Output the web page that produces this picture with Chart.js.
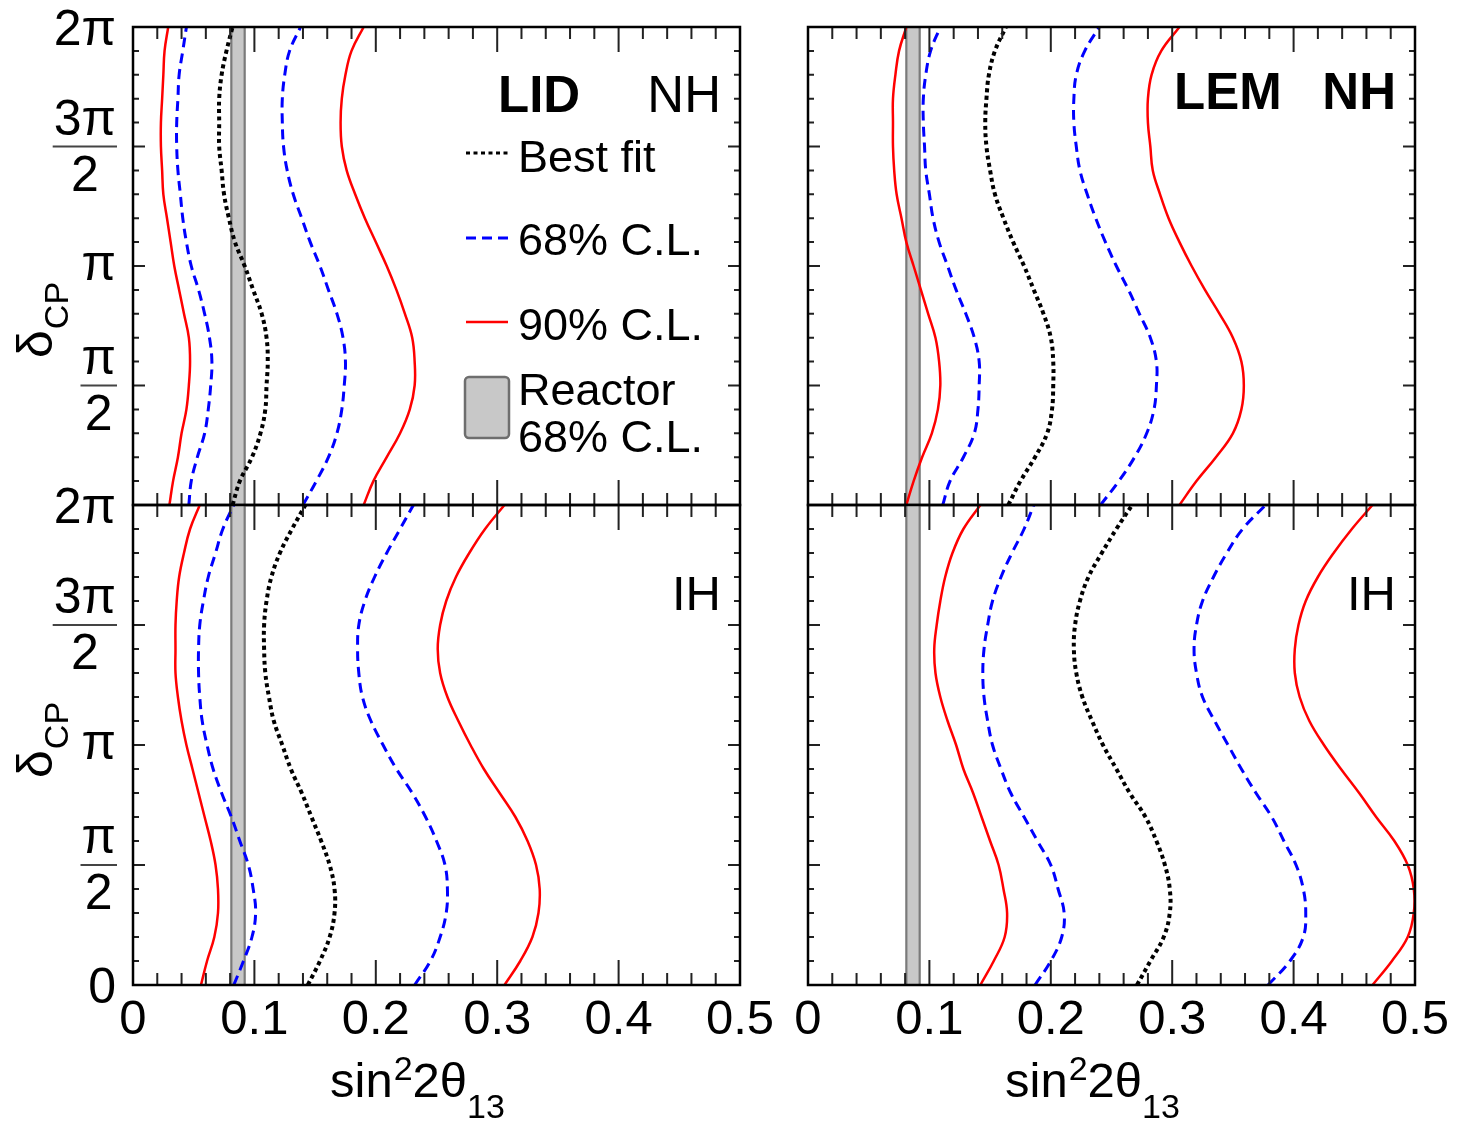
<!DOCTYPE html>
<html>
<head>
<meta charset="utf-8">
<title>sin²2θ13 vs δCP — LID / LEM, NH / IH</title>
<script src="https://cdn.jsdelivr.net/npm/chart.js@4.4.0/dist/chart.umd.min.js"></script>
<style>
  body { margin: 0; background: #fff; }
  #wrap { position: relative; width: 1457px; height: 1122px; overflow: hidden; }
  #wrap canvas { position: absolute; }
</style>
</head>
<body>
<div id="wrap">
  <canvas id="lidNH" width="790" height="520" style="left:0;top:0"></canvas>
  <canvas id="lidIH" width="790" height="652" style="left:0;top:470px"></canvas>
  <canvas id="lemNH" width="677" height="520" style="left:780px;top:0"></canvas>
  <canvas id="lemIH" width="677" height="652" style="left:780px;top:470px"></canvas>
</div>
<script>
const PI = Math.PI;
const FONT = '"Liberation Sans", Arial, Helvetica, sans-serif';

// delta_CP sample grid, in units of pi
const deltaOverPi = [0, 0.1, 0.2, 0.3, 0.4, 0.5, 0.6, 0.7, 0.8, 0.9, 1.0,
                     1.1, 1.2, 1.3, 1.4, 1.5, 1.6, 1.7, 1.8, 1.9, 2.0];

// tick labels
const xTickLabels = ['0', '0.1', '0.2', '0.3', '0.4', '0.5'];
const yLabelAt = [0, 0.5, 1, 1.5, 2];
const yLabelNum = ['0', 'π', 'π', '3π', '2π'];
const yLabelDen = ['', '2', '', '2', ''];

// reactor 68% C.L. band
const reactorLo = 0.081;
const reactorHi = 0.092;

// LID, normal hierarchy
const lidNH_90lo = [0.030, 0.033, 0.037, 0.040, 0.044, 0.046, 0.047, 0.046, 0.042, 0.038, 0.034, 0.031, 0.028, 0.025, 0.024, 0.023, 0.023, 0.024, 0.025, 0.026, 0.029];
const lidNH_68lo = [0.046, 0.048, 0.053, 0.059, 0.062, 0.064, 0.065, 0.063, 0.059, 0.054, 0.048, 0.044, 0.041, 0.039, 0.037, 0.036, 0.036, 0.037, 0.038, 0.041, 0.044];
const lidNH_best = [0.082, 0.088, 0.098, 0.105, 0.109, 0.110, 0.111, 0.110, 0.106, 0.099, 0.092, 0.084, 0.079, 0.075, 0.073, 0.071, 0.071, 0.071, 0.073, 0.077, 0.082];
const lidNH_68hi = [0.140, 0.151, 0.161, 0.168, 0.172, 0.174, 0.175, 0.173, 0.168, 0.161, 0.154, 0.146, 0.139, 0.132, 0.127, 0.124, 0.123, 0.123, 0.125, 0.129, 0.138];
const lidNH_90hi = [0.190, 0.198, 0.209, 0.220, 0.228, 0.232, 0.232, 0.230, 0.224, 0.217, 0.209, 0.200, 0.191, 0.183, 0.176, 0.172, 0.171, 0.172, 0.175, 0.180, 0.190];

// LID, inverted hierarchy
const lidIH_90lo = [0.056, 0.061, 0.067, 0.070, 0.070, 0.068, 0.064, 0.059, 0.054, 0.049, 0.044, 0.040, 0.037, 0.035, 0.035, 0.035, 0.036, 0.038, 0.042, 0.047, 0.055];
const lidIH_68lo = [0.083, 0.091, 0.098, 0.101, 0.099, 0.095, 0.088, 0.081, 0.073, 0.066, 0.061, 0.057, 0.055, 0.054, 0.054, 0.055, 0.058, 0.062, 0.068, 0.074, 0.083];
const lidIH_best = [0.144, 0.154, 0.162, 0.166, 0.166, 0.162, 0.155, 0.147, 0.139, 0.130, 0.123, 0.116, 0.112, 0.109, 0.108, 0.108, 0.110, 0.114, 0.121, 0.131, 0.142];
const lidIH_68hi = [0.232, 0.245, 0.253, 0.258, 0.259, 0.257, 0.250, 0.241, 0.230, 0.217, 0.206, 0.196, 0.189, 0.186, 0.185, 0.186, 0.191, 0.199, 0.209, 0.220, 0.231];
const lidIH_90hi = [0.306, 0.319, 0.329, 0.334, 0.335, 0.332, 0.325, 0.315, 0.302, 0.289, 0.278, 0.268, 0.259, 0.253, 0.251, 0.253, 0.258, 0.266, 0.277, 0.290, 0.306];

// LEM, normal hierarchy
const lemNH_90lo = [0.081, 0.087, 0.094, 0.102, 0.107, 0.109, 0.108, 0.105, 0.099, 0.093, 0.087, 0.081, 0.077, 0.073, 0.071, 0.070, 0.070, 0.070, 0.072, 0.075, 0.081];
const lemNH_68lo = [0.111, 0.117, 0.128, 0.137, 0.140, 0.141, 0.141, 0.137, 0.130, 0.122, 0.115, 0.108, 0.103, 0.100, 0.097, 0.096, 0.095, 0.095, 0.097, 0.101, 0.109];
const lemNH_best = [0.165, 0.175, 0.187, 0.197, 0.201, 0.202, 0.202, 0.200, 0.194, 0.186, 0.178, 0.169, 0.161, 0.154, 0.150, 0.147, 0.146, 0.147, 0.149, 0.154, 0.163];
const lemNH_68hi = [0.241, 0.256, 0.269, 0.279, 0.285, 0.287, 0.287, 0.282, 0.273, 0.264, 0.254, 0.245, 0.237, 0.230, 0.224, 0.221, 0.219, 0.219, 0.221, 0.228, 0.240];
const lemNH_90hi = [0.306, 0.320, 0.336, 0.350, 0.357, 0.359, 0.357, 0.350, 0.339, 0.327, 0.316, 0.306, 0.297, 0.290, 0.284, 0.282, 0.280, 0.280, 0.283, 0.291, 0.306];

// LEM, inverted hierarchy
const lemIH_90lo = [0.142, 0.153, 0.162, 0.164, 0.161, 0.157, 0.150, 0.143, 0.136, 0.128, 0.122, 0.115, 0.109, 0.105, 0.104, 0.106, 0.109, 0.113, 0.119, 0.128, 0.142];
const lemIH_68lo = [0.187, 0.200, 0.209, 0.211, 0.206, 0.200, 0.189, 0.178, 0.167, 0.159, 0.152, 0.148, 0.145, 0.144, 0.145, 0.148, 0.152, 0.159, 0.168, 0.178, 0.186];
const lemIH_best = [0.271, 0.282, 0.293, 0.298, 0.298, 0.294, 0.287, 0.278, 0.265, 0.254, 0.243, 0.234, 0.226, 0.221, 0.219, 0.220, 0.224, 0.231, 0.242, 0.254, 0.267];
const lemIH_68hi = [0.379, 0.397, 0.408, 0.410, 0.408, 0.402, 0.392, 0.382, 0.369, 0.357, 0.346, 0.335, 0.325, 0.320, 0.318, 0.320, 0.325, 0.334, 0.345, 0.358, 0.377];
const lemIH_90hi = [0.465, 0.481, 0.494, 0.499, 0.499, 0.494, 0.483, 0.468, 0.454, 0.439, 0.425, 0.413, 0.405, 0.401, 0.401, 0.404, 0.410, 0.420, 0.433, 0.448, 0.465];

const RED = '#ff0000', BLUE = '#0000ff', BLACK = '#000000';
const styles = {
    best: { borderColor: BLACK, borderWidth: 4, borderDash: [4, 3.5] },
    c68: { borderColor: BLUE, borderWidth: 3, borderDash: [10, 6] },
    c90: { borderColor: RED, borderWidth: 2.5, borderDash: [] }
};

function toPoints(xs) {
    return xs.map((x, i) => ({ x: x, y: deltaOverPi[i] * PI }));
}

function curve(xs, kind) {
    return Object.assign({
        data: toPoints(xs), showLine: true, pointRadius: 0, tension: 0.4, fill: false, order: 0
    }, styles[kind]);
}

function reactorBand() {
    return {
        data: [{ x: reactorLo, y: 0 }, { x: reactorLo, y: 2 * PI }, { x: reactorHi, y: 2 * PI }, { x: reactorHi, y: 0 }, { x: reactorLo, y: 0 }],
        showLine: true, pointRadius: 0, tension: 0, fill: 'shape',
        backgroundColor: '#c8c8c8', borderColor: '#7a7a7a', borderWidth: 2.2, order: 5
    };
}

function text(ctx, str, x, y, size, weight, align) {
    ctx.font = (weight || 'normal') + ' ' + size + 'px ' + FONT;
    ctx.textAlign = align || 'left';
    ctx.textBaseline = 'alphabetic';
    ctx.fillText(str, x, y);
    return ctx.measureText(str).width;
}

// frame, inner ticks, y labels, titles and legend
function decorPlugin(p) {
    return {
        id: 'decor',
        afterDatasetsDraw(chart) {
            const ctx = chart.ctx, a = chart.chartArea;
            const xs = chart.scales.x, ys = chart.scales.y;
            ctx.save();
            ctx.fillStyle = '#000';

            // inner ticks on all four sides
            ctx.strokeStyle = '#222';
            ctx.lineWidth = 2;
            ctx.beginPath();
            for (let i = 0; i <= 25; i++) {
                const px = xs.getPixelForValue(i * 0.02);
                const len = i % 5 === 0 ? 25 : 12;
                ctx.moveTo(px, a.bottom); ctx.lineTo(px, a.bottom - len);
                ctx.moveTo(px, a.top); ctx.lineTo(px, a.top + len);
            }
            for (let i = 0; i <= 20; i++) {
                const py = ys.getPixelForValue(i * PI / 10);
                const len = i % 5 === 0 ? 12 : 6;
                ctx.moveTo(a.left, py); ctx.lineTo(a.left + len, py);
                ctx.moveTo(a.right, py); ctx.lineTo(a.right - len, py);
            }
            ctx.stroke();

            ctx.strokeStyle = '#000';
            ctx.lineWidth = 2.5;
            ctx.strokeRect(a.left, a.top, a.right - a.left, a.bottom - a.top);

            // y tick labels (left column only)
            if (p.yLabels) {
                const R = a.left - 17;
                yLabelAt.forEach((v, i) => {
                    if (i === 0 && !p.bottom) return;
                    const py = ys.getPixelForValue(v * PI);
                    ctx.font = '50px ' + FONT;
                    const num = yLabelNum[i], den = yLabelDen[i];
                    if (!den) {
                        const m = ctx.measureText(num);
                        const h = m.actualBoundingBoxAscent - m.actualBoundingBoxDescent;
                        text(ctx, num, R, py + h / 2, 50, 'normal', 'right');
                    } else {
                        const w = Math.max(ctx.measureText(num).width, ctx.measureText(den).width);
                        const asc = ctx.measureText(den).actualBoundingBoxAscent;
                        text(ctx, num, R - w / 2, py - 12, 50, 'normal', 'center');
                        text(ctx, den, R - w / 2, py + 8 + asc, 50, 'normal', 'center');
                        ctx.strokeStyle = '#444';
                        ctx.lineWidth = 2;
                        ctx.beginPath();
                        ctx.moveTo(R - w - 1, py); ctx.lineTo(R + 1, py);
                        ctx.stroke();
                    }
                });
                // delta_CP title, rotated
                ctx.save();
                ctx.translate(a.left - 81, a.top + p.yTitleOff);
                ctx.rotate(-PI / 2);
                const dw = text(ctx, 'δ', 0, 0, 50);
                text(ctx, 'CP', dw + 1, 16, 34);
                ctx.restore();
            }

            // x title (bottom row only)
            if (p.bottom) {
                let x0 = a.left + 197;
                const yb = a.bottom + 112;
                x0 += text(ctx, 'sin', x0, yb, 49);
                x0 += text(ctx, '2', x0 + 1, yb - 17, 34) + 1;
                x0 += text(ctx, '2θ', x0, yb, 49);
                text(ctx, '13', x0, yb + 21, 34);
            }

            // panel labels
            if (p.algo) {
                text(ctx, p.algo, a.left + p.algoX, a.top + p.labelY, 51, 'bold');
            }
            text(ctx, p.hier, a.right - 19, a.top + p.labelY, p.hierSize, p.hierWeight, 'right');

            // legend (LID NH only)
            if (p.legend) {
                const lx = a.left + 333, tx = a.left + 385;
                const rows = [
                    { label: 'Best fit', s: styles.best, ly: 126, ty: 145 },
                    { label: '68% C.L.', s: styles.c68, ly: 211, ty: 228 },
                    { label: '90% C.L.', s: styles.c90, ly: 295, ty: 313 }
                ];
                rows.forEach(r => {
                    ctx.strokeStyle = r.s.borderColor;
                    ctx.lineWidth = r.s.borderWidth === 4 ? 3 : r.s.borderWidth;
                    ctx.setLineDash(r.s.borderDash);
                    ctx.beginPath();
                    ctx.moveTo(lx, a.top + r.ly); ctx.lineTo(lx + 42, a.top + r.ly);
                    ctx.stroke();
                    ctx.setLineDash([]);
                    text(ctx, r.label, tx, a.top + r.ty, 45);
                });
                ctx.fillStyle = '#c8c8c8';
                ctx.strokeStyle = '#6e6e6e';
                ctx.lineWidth = 2.5;
                ctx.beginPath();
                ctx.roundRect(a.left + 332, a.top + 350, 44, 61, 4);
                ctx.fill();
                ctx.stroke();
                ctx.fillStyle = '#000';
                text(ctx, 'Reactor', tx, a.top + 378, 45);
                text(ctx, '68% C.L.', tx, a.top + 425, 45);
            }
            ctx.restore();
        }
    };
}

function makePanel(id, series, p) {
    const pad = p.bottom ? { left: p.padL, right: p.padR, top: 35, bottom: 47 }
                         : { left: p.padL, right: p.padR, top: 27, bottom: 15 };
    new Chart(document.getElementById(id), {
        type: 'scatter',
        data: {
            datasets: [
                curve(series.best, 'best'),
                curve(series.lo68, 'c68'),
                curve(series.hi68, 'c68'),
                curve(series.lo90, 'c90'),
                curve(series.hi90, 'c90'),
                reactorBand()
            ]
        },
        options: {
            responsive: false,
            animation: false,
            events: [],
            layout: { padding: pad },
            plugins: { legend: { display: false }, tooltip: { enabled: false } },
            scales: {
                x: {
                    type: 'linear', min: 0, max: 0.5,
                    display: p.bottom,
                    grid: { display: false, drawTicks: false },
                    border: { display: false },
                    ticks: {
                        stepSize: 0.1, padding: 6, color: '#000', maxRotation: 0, autoSkip: false,
                        font: { family: FONT, size: 49 },
                        callback: v => xTickLabels[Math.round(v * 10)]
                    },
                    afterFit: s => { s.height = p.bottom ? 90 : 0; }
                },
                y: { type: 'linear', min: 0, max: 2 * PI, display: false }
            }
        },
        plugins: [decorPlugin(p)]
    });
}

makePanel('lidNH',
    { best: lidNH_best, lo68: lidNH_68lo, hi68: lidNH_68hi, lo90: lidNH_90lo, hi90: lidNH_90hi },
    { padL: 133, padR: 50, bottom: false, yLabels: true, yTitleOff: 331, algo: 'LID', algoX: 365, labelY: 85,
      hier: 'NH', hierSize: 51, hierWeight: 'normal', legend: true });
makePanel('lidIH',
    { best: lidIH_best, lo68: lidIH_68lo, hi68: lidIH_68hi, lo90: lidIH_90lo, hi90: lidIH_90hi },
    { padL: 133, padR: 50, bottom: true, yLabels: true, yTitleOff: 273, algo: null, labelY: 105,
      hier: 'IH', hierSize: 49, hierWeight: 'normal', legend: false });
makePanel('lemNH',
    { best: lemNH_best, lo68: lemNH_68lo, hi68: lemNH_68hi, lo90: lemNH_90lo, hi90: lemNH_90hi },
    { padL: 28, padR: 42, bottom: false, yLabels: false, algo: 'LEM', algoX: 366, labelY: 82,
      hier: 'NH', hierSize: 51, hierWeight: 'bold', legend: false });
makePanel('lemIH',
    { best: lemIH_best, lo68: lemIH_68lo, hi68: lemIH_68hi, lo90: lemIH_90lo, hi90: lemIH_90hi },
    { padL: 28, padR: 42, bottom: true, yLabels: false, algo: null, labelY: 105,
      hier: 'IH', hierSize: 49, hierWeight: 'normal', legend: false });
</script>
</body>
</html>
